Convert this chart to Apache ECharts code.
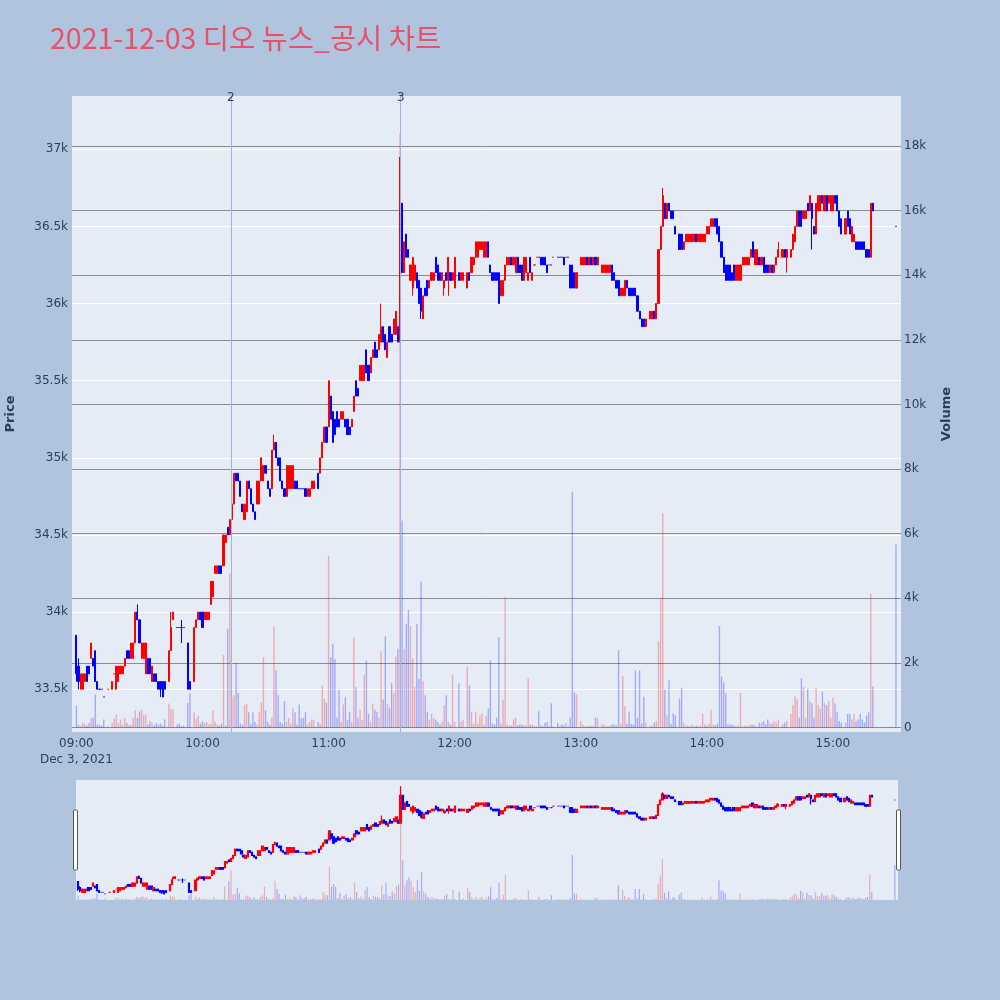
<!DOCTYPE html>
<html>
<head>
<meta charset="utf-8">
<script src="https://cdn.jsdelivr.net/npm/echarts@6/dist/echarts.min.js"></script>
<style>
html,body{margin:0;padding:0;background:#b0c4de;}
#chart{width:1000px;height:1000px;}
</style>
</head>
<body>
<div id="chart"></div>
<script>
// ---------- DATA ----------
const titleText = '2021-12-03 디오 뉴스_공시 차트';
const sessionStart = '09:00';           // first minute of the per-minute arrays
// per minute: [open, close, low, high]; null = no trade in that minute
const ohlc = [
// 0-4
[33850,33600,33550,33850],[33650,33550,33500,33700],[33500,33600,33500,33600],[33500,33600,33500,33600],[33550,33600,33550,33600],
// 5-9
[33650,33550,33550,33650],[33650,33600,33600,33650],[33700,33800,33700,33800],[33700,33650,33650,33700],[33750,33550,33550,33750],
// 10-14
[33550,33500,33500,33550],[33500,33500,33500,33500],[33500,33500,33500,33500],[33450,33450,33450,33450],null,
// 15-19
[33500,33500,33500,33500],null,[33500,33550,33500,33550],[33600,33600,33600,33600],[33500,33650,33500,33650],
// 20-24
[33550,33650,33550,33650],[33600,33650,33600,33650],[33600,33650,33600,33650],[33650,33700,33650,33700],[33750,33700,33700,33750],
// 25-29
[33750,33700,33700,33750],[33700,33800,33700,33800],[33700,33800,33700,33800],[33800,34000,33800,34000],[34000,33950,33950,34050],
// 30-34
[33950,33800,33800,33950],[33700,33800,33700,33800],[33700,33800,33700,33800],[33600,33800,33600,33800],[33700,33600,33600,33700],
// 35-39
[33700,33600,33600,33700],[33550,33650,33550,33650],[33600,33550,33550,33600],[33600,33550,33550,33600],[33550,33500,33500,33550],
// 40-44
[33550,33500,33450,33550],[33550,33450,33450,33550],[33550,33500,33500,33550],null,[33550,33750,33550,33750],
// 45-49
[33750,33900,33750,34000],[33950,34000,33950,34000],null,[33900,33900,33900,33900],[33900,33900,33900,33900],
// 50-54
[33900,33900,33800,33950],[33900,33900,33900,33900],null,[33800,33500,33500,33800],[33550,33500,33500,33550],
// 55-59
null,[33550,33900,33550,33900],[33900,33950,33900,33950],[33950,34000,33950,34000],[34000,33950,33950,34000],
// 60-64
[34000,33900,33900,34000],[33950,34000,33950,34000],[33950,34000,33950,34000],[33950,34000,33950,34000],[34050,34200,34050,34200],
// 65-69
[34100,34200,34100,34200],[34250,34300,34250,34300],[34250,34300,34250,34300],[34300,34250,34250,34300],[34300,34250,34250,34300],
// 70-74
[34300,34500,34300,34500],[34450,34500,34450,34500],[34550,34500,34500,34550],[34500,34600,34500,34600],[34600,34700,34600,34700],
// 75-79
[34700,34900,34700,34900],[34900,34850,34850,34900],[34900,34850,34850,34900],[34850,34750,34750,34850],[34700,34650,34650,34700],
// 80-84
[34600,34700,34600,34700],[34650,34850,34650,34850],[34850,34800,34800,34850],[34800,34700,34700,34800],[34700,34650,34650,34700],
// 85-89
[34650,34600,34600,34650],[34700,34850,34700,34850],[34700,34850,34700,34850],[34850,35000,34850,35000],[34850,34950,34850,34950],
// 90-94
[34950,34900,34900,34950],[34850,34800,34800,34850],[34800,34750,34750,34800],[34800,35050,34800,35050],[35050,35100,35050,35150],
// 95-99
[35100,35000,35000,35100],[35000,34950,34950,35000],[35000,34850,34850,35000],[34850,34800,34800,34850],[34800,34750,34750,34800],
// 100-104
[34750,34950,34750,34950],[34800,34950,34800,34950],[34800,34950,34800,34950],[34800,34950,34800,34950],[34850,34800,34800,34850],
// 105-109
[34850,34800,34800,34850],[34800,34800,34800,34800],[34800,34800,34800,34800],[34800,34800,34800,34800],[34800,34750,34750,34800],
// 110-114
[34750,34800,34750,34800],[34750,34800,34750,34800],[34800,34850,34800,34850],[34800,34850,34800,34850],null,
// 115-119
[34900,34800,34800,34900],[34900,35000,34900,35000],[35000,35100,35000,35100],[35100,35200,35100,35200],[35200,35100,35100,35200],
// 120-124
[35200,35500,35200,35500],[35400,35250,35250,35400],[35300,35100,35100,35300],[35250,35150,35150,35250],[35300,35200,35200,35300],
// 125-129
[35250,35200,35200,35250],[35250,35300,35250,35300],[35250,35300,35250,35300],[35250,35200,35200,35250],[35250,35150,35150,35250],
// 130-134
[35200,35150,35150,35200],[35200,35250,35200,35250],[35300,35400,35300,35400],[35500,35400,35400,35500],[35450,35400,35400,35450],
// 135-139
[35500,35600,35500,35600],[35500,35600,35500,35600],[35500,35600,35500,35600],[35700,35550,35550,35700],[35600,35500,35500,35600],
// 140-144
[35550,35650,35550,35650],[35650,35700,35650,35700],[35750,35650,35650,35750],[35700,35650,35650,35700],[35700,35800,35700,35800],
// 145-149
[35750,35850,35750,36000],[35850,35750,35750,35850],[35800,35700,35700,35800],[35650,35750,35650,35750],[35850,35750,35750,35850],
// 150-154
[35800,35750,35750,35800],[35800,35900,35800,35900],[35800,35950,35800,35950],[35850,35750,35750,35850],[35750,36650,35750,36950],
// 155-159
[36650,36200,36200,36650],[36200,36400,36200,36400],[36450,36300,36300,36450],[36350,36300,36300,36350],[36150,36250,36150,36250],
// 160-164
[36100,36300,36050,36300],[36150,36250,36150,36250],[36200,36100,36100,36200],[36150,36000,36000,36150],[36100,35950,35900,36100],
// 165-169
[35900,36050,35900,36050],[36100,36050,36050,36100],[36150,36050,36050,36150],[36100,36150,36100,36150],[36150,36200,36150,36200],
// 170-174
[36150,36200,36150,36200],[36300,36200,36200,36300],[36250,36150,36150,36250],[36200,36150,36150,36200],[36150,36200,36150,36200],
// 175-179
[36100,36150,36050,36150],[36200,36150,36150,36200],[36150,36300,36050,36300],[36200,36150,36150,36200],[36150,36200,36150,36200],
// 180-184
[36100,36300,36100,36300],null,[36200,36150,36150,36200],[36150,36200,36150,36200],[36150,36200,36150,36200],
// 185-189
null,[36100,36200,36100,36200],[36200,36150,36150,36200],[36200,36300,36200,36300],[36250,36300,36250,36300],
// 190-194
[36300,36400,36300,36400],[36300,36400,36300,36400],[36350,36400,36350,36400],[36350,36400,36350,36400],[36300,36400,36300,36400],
// 195-199
[36300,36400,36300,36400],[36400,36300,36300,36400],[36250,36200,36200,36250],[36200,36150,36150,36200],[36200,36150,36150,36200],
// 200-204
[36200,36150,36150,36200],[36200,36000,36000,36200],[36050,36150,36050,36150],[36050,36150,36050,36150],[36150,36250,36150,36250],
// 205-209
[36250,36300,36250,36300],[36250,36300,36250,36300],[36300,36250,36250,36300],[36250,36300,36250,36300],[36200,36300,36200,36300],
// 210-214
[36300,36200,36200,36300],[36250,36200,36200,36250],[36250,36150,36150,36250],[36150,36300,36150,36300],[36200,36300,36200,36300],
// 215-219
[36150,36200,36150,36200],[36300,36200,36200,36300],[36150,36200,36150,36200],[36250,36250,36250,36250],[36300,36300,36300,36300],
// 220-224
[36300,36300,36300,36300],[36300,36250,36250,36300],[36300,36250,36250,36300],[36300,36250,36250,36300],[36250,36200,36200,36250],
// 225-229
[36250,36250,36250,36250],[36250,36250,36250,36250],[36300,36300,36300,36300],null,[36300,36300,36300,36300],
// 230-234
[36300,36300,36300,36300],[36300,36300,36300,36300],[36300,36250,36250,36300],[36300,36300,36300,36300],[36300,36300,36300,36300],
// 235-239
[36250,36100,36100,36250],[36250,36100,36100,36250],[36200,36100,36100,36200],[36100,36200,36100,36200],null,
// 240-244
[36250,36300,36250,36300],[36250,36300,36250,36300],[36250,36300,36250,36300],[36300,36250,36250,36300],[36250,36300,36250,36300],
// 245-249
[36300,36250,36250,36300],[36250,36300,36250,36300],[36300,36250,36250,36300],[36250,36300,36250,36300],null,
// 250-254
[36200,36250,36200,36250],[36200,36250,36200,36250],[36200,36250,36200,36250],[36200,36250,36200,36250],[36200,36250,36200,36250],
// 255-259
[36250,36150,36150,36250],[36200,36150,36150,36200],[36150,36100,36100,36150],[36150,36050,36050,36150],[36050,36100,36050,36100],
// 260-264
[36050,36100,36050,36100],[36050,36150,36050,36150],[36150,36100,36100,36150],[36100,36050,36050,36100],[36100,36050,36050,36100],
// 265-269
[36100,36050,36050,36100],[36100,36050,36050,36100],[36050,35950,35950,36050],[35950,35900,35900,35950],[35900,35850,35850,35900],
// 270-274
[35900,35850,35850,35900],[35850,35900,35850,35900],null,[35900,35950,35900,35950],[35900,35950,35900,35950],
// 275-279
[35950,35900,35900,35950],[35900,36000,35900,36000],[36000,36350,36000,36350],[36350,36500,36350,36500],[36500,36700,36500,36750],
// 280-284
[36650,36550,36550,36650],[36550,36650,36550,36650],[36650,36600,36600,36650],[36600,36550,36550,36600],[36600,36550,36550,36600],
// 285-289
[36500,36450,36450,36500],null,[36450,36350,36350,36450],[36450,36350,36350,36450],[36350,36400,36350,36400],
// 290-294
[36400,36450,36400,36450],[36400,36450,36400,36450],[36400,36450,36400,36450],[36400,36450,36400,36450],[36400,36450,36400,36450],
// 295-299
[36450,36400,36400,36450],[36400,36450,36400,36450],[36400,36450,36400,36450],[36400,36450,36400,36450],[36400,36450,36400,36450],
// 300-304
[36450,36500,36450,36500],[36450,36500,36450,36500],[36500,36550,36500,36550],[36500,36550,36500,36550],[36550,36500,36500,36550],
// 305-309
[36550,36450,36450,36550],[36500,36400,36400,36500],[36400,36300,36300,36400],[36300,36200,36200,36300],[36250,36150,36150,36250],
// 310-314
[36250,36150,36150,36250],[36250,36150,36150,36250],[36200,36150,36150,36200],[36250,36150,36150,36250],[36150,36250,36150,36250],
// 315-319
[36150,36250,36150,36250],[36150,36250,36150,36250],[36250,36300,36250,36300],[36250,36300,36250,36300],[36250,36300,36250,36300],
// 320-324
[36250,36300,36250,36300],[36300,36350,36300,36350],[36400,36300,36300,36400],[36250,36350,36250,36350],[36250,36350,36250,36350],
// 325-329
[36300,36250,36250,36300],[36250,36300,36250,36300],[36300,36200,36200,36300],[36250,36200,36200,36250],[36250,36200,36200,36250],
// 330-334
[36200,36250,36200,36250],[36250,36200,36200,36250],[36200,36250,36200,36250],[36250,36300,36250,36300],[36300,36350,36300,36400],
// 335-339
null,[36300,36350,36300,36350],[36350,36300,36300,36350],[36300,36350,36200,36350],null,
// 340-344
[36300,36350,36300,36350],[36350,36450,36350,36450],[36400,36500,36400,36500],[36500,36600,36500,36600],[36600,36500,36500,36600],
// 345-349
[36600,36500,36500,36600],[36550,36600,36550,36600],[36550,36600,36550,36600],[36650,36600,36600,36650],[36600,36700,36600,36700],
// 350-354
[36650,36550,36350,36650],[36500,36450,36450,36500],[36450,36650,36450,36650],[36600,36700,36600,36700],[36600,36700,36600,36700],
// 355-359
[36700,36650,36650,36700],[36600,36700,36600,36700],[36700,36600,36600,36700],[36650,36700,36650,36700],[36600,36700,36600,36700],
// 360-364
[36600,36700,36600,36700],[36700,36650,36650,36700],[36700,36600,36600,36700],[36600,36500,36500,36600],[36550,36450,36450,36550],
// 365-369
null,[36450,36550,36450,36550],[36600,36500,36500,36600],[36550,36450,36450,36550],[36400,36500,36400,36500],
// 370-374
[36400,36450,36400,36450],[36400,36350,36350,36400],[36400,36350,36350,36400],[36400,36350,36350,36400],[36400,36350,36350,36400],
// 375-379
[36400,36350,36350,36400],[36350,36300,36300,36350],[36350,36300,36300,36350],[36300,36650,36300,36650],[36650,36600,36600,36650],
// 380-389 (closing auction, no trades)
null,null,null,null,null,null,null,null,null,null,
// 390 (15:30 close)
[36500,36500,36500,36500]
];
// per-minute volume, same indexing as ohlc
const volume = [
680,90,50,140,120,60,140,300,300,1020,
90,90,60,250,0,40,0,140,270,400,
140,250,90,300,140,60,90,300,535,300,
500,560,400,400,90,190,140,60,140,90,
120,60,250,0,740,580,560,0,90,120,
40,60,0,760,1070,0,470,270,370,120,
190,140,160,90,120,530,180,90,60,120,
2240,60,3060,4770,940,1000,2000,1060,120,90,
700,730,470,120,470,180,90,470,765,2180,
530,180,90,300,3120,1770,1000,180,120,820,
180,290,120,590,470,90,710,290,290,470,
90,180,240,240,0,180,120,1290,880,770,
5320,2180,2590,2120,300,1180,180,710,940,240,
490,180,2780,1250,300,550,240,1625,2070,430,
180,740,550,490,300,2360,870,2820,740,620,
1370,1060,2190,2440,18400,6410,2440,3200,3640,3140,
2130,1250,3200,1500,4520,1430,1000,490,240,430,
300,240,180,90,180,680,1000,180,90,1625,
180,0,1370,180,240,0,1880,1310,490,120,
490,120,370,430,90,370,585,2077,120,90,
310,2800,120,860,4030,90,60,60,250,310,
60,90,90,60,60,1525,90,90,40,40,
500,60,40,140,170,40,750,40,0,140,
40,90,60,140,40,310,7300,1080,1030,0,
200,90,40,40,60,40,60,310,280,0,
90,90,40,40,60,90,90,60,2400,120,
1600,660,120,490,120,90,1770,300,1770,120,
950,150,0,60,60,150,200,2660,3980,6640,
1180,380,1460,120,440,380,0,890,1230,150,
60,60,40,90,40,60,40,60,430,90,
60,120,550,90,60,120,3140,1580,1400,1060,
90,90,90,60,40,60,1060,40,60,40,
60,90,90,60,40,150,150,200,100,250,
150,120,200,150,250,0,100,150,200,0,
420,700,970,870,300,1525,1250,300,1190,810,
750,300,1225,700,590,1115,750,700,810,300,
920,750,475,200,150,0,150,420,420,250,
420,200,250,420,250,150,370,475,4140,1270,
0,0,0,0,0,0,0,0,0,0,
5670
];
const xTickLabels = ['09:00','10:00','11:00','12:00','13:00','14:00','15:00'];
const dateLabel = 'Dec 3, 2021';
const priceTicks = [33500,34000,34500,35000,35500,36000,36500,37000];
const volumeTicks = [0,2000,4000,6000,8000,10000,12000,14000,16000,18000];
const eventNames = ['2','3'];
const eventTimes = ['10:13:30','11:34:20'];

// ---------- BUILD ----------
const toMin = s => { const p = s.split(':'); return (+p[0]) * 60 + (+p[1]) + (p[2] ? (+p[2]) / 60 : 0); };
const base = toMin(sessionStart);
const minOf = s => toMin(s) - base;
const tickMinutes = xTickLabels.map(minOf);

const UP = '#ff0000', DOWN = '#0000ff';
const UPV = 'rgba(255,0,0,0.28)', DOWNV = 'rgba(0,0,255,0.28)';
const candleData = [], volData = [];
let prevClose = null;
ohlc.forEach((r, i) => {
  if (!r) return;
  const [o, c, l, h] = r;
  const up = c > o ? true : (c < o ? false : (prevClose !== null && c > prevClose));
  prevClose = c;
  const col = up ? UP : DOWN;
  candleData.push({ value: [i, o, c, l, h],
    itemStyle: { color: col, color0: col, borderColor: col, borderColor0: col, borderColorDoji: col } });
  volData.push({ value: [i, volume[i]], itemStyle: { color: up ? UPV : DOWNV } });
});

const FONT = '"DejaVu Sans", Verdana, sans-serif';
const TXT = '#2a3f5f';
const kfmt = v => v === 0 ? '0' : (v / 1000) + 'k';

const chart = echarts.init(document.getElementById('chart'), null, { renderer: 'canvas' });
chart.setOption({
  backgroundColor: '#b0c4de',
  animation: false,
  title: {
    text: titleText, left: 45, top: 19,
    textStyle: { fontFamily: '"Noto Sans CJK KR", sans-serif', fontSize: 28.5, fontWeight: 'normal', color: '#e9506a' }
  },
  grid: [
    { left: 72, right: 99, top: 96, bottom: 268, show: true, backgroundColor: '#e5ecf6', borderWidth: 0, containLabel: false, outerBoundsMode: 'none' },
    { left: 76, right: 102, top: 780, bottom: 100, show: true, backgroundColor: '#e5ecf6', borderWidth: 0, containLabel: false, outerBoundsMode: 'none' }
  ],
  xAxis: [
    { type: 'value', gridIndex: 0, min: -2.1, max: 392.4,
      axisLine: { show: false }, axisTick: { show: false, customValues: tickMinutes },
      splitLine: { show: false },
      axisLabel: { customValues: tickMinutes, color: TXT, fontFamily: FONT, fontSize: 12, margin: 4, lineHeight: 16,
        formatter: v => { const k = tickMinutes.indexOf(v); const t = k >= 0 ? xTickLabels[k] : ''; return k === 0 ? t + '\n' + dateLabel : t; } } },
    { type: 'value', gridIndex: 1, min: -1, max: 391.5, show: false, splitLine: { show: false } }
  ],
  yAxis: [
    { type: 'value', gridIndex: 0, position: 'left', min: 33223, max: 37345,
      name: 'Price', nameLocation: 'middle', nameGap: 55, nameRotate: 90,
      nameTextStyle: { fontFamily: FONT, fontSize: 13, fontWeight: 'bold', color: TXT },
      axisLine: { show: false }, axisTick: { show: false, customValues: priceTicks },
      axisLabel: { customValues: priceTicks, formatter: kfmt, color: TXT, fontFamily: FONT, fontSize: 12, margin: 4 },
      splitLine: { show: true, lineStyle: { color: '#ffffff', width: 1 } } },
    { type: 'value', gridIndex: 0, position: 'right', min: -139, max: 19548,
      name: 'Volume', nameLocation: 'middle', nameGap: 39, nameRotate: 90,
      nameTextStyle: { fontFamily: FONT, fontSize: 13, fontWeight: 'bold', color: TXT },
      axisLine: { show: false }, axisTick: { show: false, customValues: volumeTicks },
      axisLabel: { customValues: volumeTicks, formatter: kfmt, color: TXT, fontFamily: FONT, fontSize: 12, margin: 3 },
      splitLine: { show: true, lineStyle: { color: '#8c8c8c', width: 1 } } },
    { type: 'value', gridIndex: 1, min: 33250, max: 37150, show: false, splitLine: { show: false } },
    { type: 'value', gridIndex: 1, min: 0, max: 19400, show: false, splitLine: { show: false } }
  ],
  series: [
    { type: 'bar', name: 'Volume', xAxisIndex: 0, yAxisIndex: 1, data: volData, barWidth: 1.4, z: 2, silent: true },
    { type: 'candlestick', name: 'Price', xAxisIndex: 0, yAxisIndex: 0, data: candleData,
      encode: { x: 0, y: [1, 2, 3, 4] }, barWidth: 1.6, itemStyle: { borderWidth: 1 }, z: 3,
      markLine: {
        silent: true, symbol: 'none', animation: false,
        lineStyle: { color: '#9fb2e6', width: 1, type: 'solid' },
        label: { show: true, position: 'end', formatter: '{b}', color: TXT, fontFamily: FONT, fontSize: 12, distance: -7.5 },
        data: eventTimes.map((t, k) => ({ name: eventNames[k], xAxis: minOf(t) }))
      } },
    { type: 'bar', xAxisIndex: 1, yAxisIndex: 3, data: volData, barWidth: 1.2, z: 2, silent: true },
    { type: 'candlestick', xAxisIndex: 1, yAxisIndex: 2, data: candleData,
      encode: { x: 0, y: [1, 2, 3, 4] }, barWidth: 1.8, itemStyle: { borderWidth: 1.2 }, z: 3, silent: true }
  ],
  graphic: [
    { type: 'rect', shape: { x: 73.5, y: 810, width: 4, height: 60, r: 1 }, style: { fill: '#ffffff', stroke: '#555555', lineWidth: 1 }, z: 100 },
    { type: 'rect', shape: { x: 896.5, y: 810, width: 4, height: 60, r: 1 }, style: { fill: '#ffffff', stroke: '#555555', lineWidth: 1 }, z: 100 }
  ]
});
</script>
</body>
</html>
